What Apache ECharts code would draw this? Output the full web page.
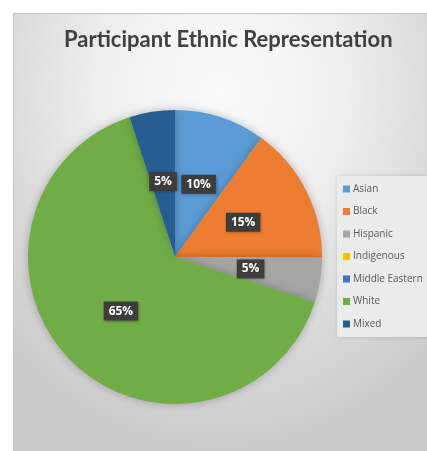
<!DOCTYPE html>
<html>
<head>
<meta charset="utf-8">
<script src="https://cdn.jsdelivr.net/npm/echarts@6/dist/echarts.min.js"></script>
<style>
html,body{margin:0;padding:0;background:#fff;}
#frame{position:absolute;left:13px;top:13px;width:414px;height:438px;box-sizing:border-box;border-top:1px solid #c4c4c4;border-left:1px solid #c4c4c4;
background:radial-gradient(ellipse 75% 85% at 50% 18%, #fbfbfb 0%, #eeeeee 40%, #dadada 70%, #c9c9c9 100%);}
#chart{position:absolute;left:0;top:0;width:427px;height:451px;}
</style>
</head>
<body>
<div id="frame"></div>
<div id="chart"></div>
<script>
const title = 'Participant Ethnic Representation';
const categories = ['Asian', 'Black', 'Hispanic', 'Indigenous', 'Middle Eastern', 'White', 'Mixed'];
const values = [10, 15, 5, 0, 0, 65, 5];
const colors = ['#5b9bd5', '#ed7d31', '#a5a5a5', '#ffc000', '#4472c4', '#70ad47', '#255e91'];

const chart = echarts.init(document.getElementById('chart'), null, {renderer: 'canvas'});
const data = categories.map((c, i) => ({
  name: c,
  value: values[i],
  itemStyle: {color: colors[i]},
  label: {show: values[i] > 0}
}));
chart.setOption({
  backgroundColor: 'transparent',
  animation: false,
  title: {
    text: title,
    left: 59, top: 24,
    textStyle: {fontFamily: 'Lato', fontWeight: 'bold', fontSize: 22, color: '#404040'}
  },
  legend: {
    orient: 'vertical',
    left: 337, top: 176,
    data: categories,
    icon: 'rect',
    itemWidth: 7, itemHeight: 7,
    itemGap: 10.5,
    padding: [7, 20, 7, 6],
    backgroundColor: '#ebebeb',
    shadowBlur: 4, shadowColor: 'rgba(0,0,0,0.15)',
    selectedMode: false,
    textStyle: {fontFamily: 'Open Sans', fontSize: 10, color: '#595959', lineHeight: 12, padding: [0, 0, 0, -2]}
  },
  series: [{
    type: 'pie',
    center: [175, 257],
    radius: [0, 147],
    startAngle: 90,
    clockwise: true,
    avoidLabelOverlap: false,
    data: data,
    itemStyle: {shadowBlur: 10, shadowColor: 'rgba(0,0,0,0.25)'},
    label: {
      position: 'inside',
      formatter: p => Math.round(p.percent) + '%',
      color: '#ffffff',
      fontFamily: 'Open Sans',
      fontWeight: 'bold',
      fontSize: 12,
      backgroundColor: '#3d3d3d',
      padding: [4, 5, 3, 5],
      shadowBlur: 3, shadowColor: 'rgba(0,0,0,0.35)', shadowOffsetX: 1, shadowOffsetY: 1
    },
    labelLine: {show: false}
  }]
});
</script>
</body>
</html>
